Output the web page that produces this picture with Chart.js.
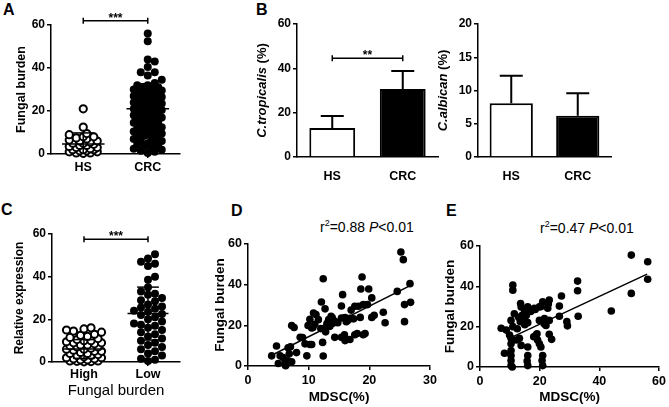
<!DOCTYPE html>
<html>
<head>
<meta charset="utf-8">
<script src="https://cdn.jsdelivr.net/npm/chart.js@4.4.1/dist/chart.umd.min.js"></script>
<style>
  body { margin: 0; background: #fff; width: 669px; height: 407px; position: relative; overflow: hidden;
         font-family: "Liberation Sans", Arial, sans-serif; color: #000; }
  canvas { position: absolute; }
  .letter { position: absolute; font-weight: bold; font-size: 16px; line-height: 16px; }
  .stat { position: absolute; font-size: 14px; line-height: 14px; white-space: nowrap; }
  .stat sup { font-size: 9px; line-height: 0; vertical-align: 6px; }
</style>
</head>
<body>
<div class="letter" style="left:3px;top:1.5px">A</div>
<div class="letter" style="left:256px;top:1.5px">B</div>
<div class="letter" style="left:1px;top:201.5px">C</div>
<div class="letter" style="left:231px;top:202.5px">D</div>
<div class="letter" style="left:446px;top:202.5px">E</div>
<div class="stat" style="left:320px;top:219.5px">r<sup>2</sup>=0.88 <i>P</i>&lt;0.01</div>
<div class="stat" style="left:540px;top:220.5px">r<sup>2</sup>=0.47 <i>P</i>&lt;0.01</div>

<canvas id="chartA"></canvas>
<canvas id="chartB1"></canvas>
<canvas id="chartB2"></canvas>
<canvas id="chartC"></canvas>
<canvas id="chartD"></canvas>
<canvas id="chartE"></canvas>

<script>
// ---- data ----
// A: fungal burden, healthy subjects vs CRC
const groupsA = ['HS', 'CRC'];
const burdenHS = [21, 12.5, 9.5, 9, 8, 8, 7.5, 7, 6.5, 6, 6, 5.5, 5, 5, 4.5, 4, 4, 3.5, 3, 3, 2.5, 2, 2, 2, 1.5, 1.5, 1, 1, 0.5, 0.5, 0.3];
const burdenCRC = [56, 52.5, 44, 43, 40.5, 38, 38, 36.5, 34.5, 33, 32, 32, 31, 31, 30.5, 30, 30, 29.5, 29, 29,
  28.5, 28, 28, 27.5, 27, 27, 26.5, 26, 26, 25.5, 25, 25, 24.5, 24, 24, 23.5, 23, 23, 22.5, 22, 22, 21.5, 21, 21,
  20.5, 20, 20, 19.5, 19, 19, 18.5, 18, 17.5, 17, 17, 16.5, 16, 15.5, 15, 15, 14.5, 14, 13.5, 13, 12.5, 12, 12,
  11.5, 11, 10.5, 10, 10, 9.5, 9, 9, 8.5, 8, 7.5, 7, 6.5, 6, 5.5, 5, 4.5, 4, 3.5, 3, 2.5, 2, 1.5, 1, 0.5];
const meanA = [4.7, 21];
const sdA = [5.1, 11.7];

// B: species share (%), mean + SD
const groupsB = ['HS', 'CRC'];
const tropicalis = [13.1, 30.7];
const tropicalisSD = [5.4, 8.1];
const albican = [8.1, 6.2];
const albicanSD = [4.1, 3.4];

// C: relative expression by fungal burden
const groupsC = ['High', 'Low'];
const exprHigh = [16, 15.5, 15, 14.5, 14, 13, 12.5, 12, 11.5, 11, 10.5, 10, 10, 9.5, 9, 9, 8.5, 8, 8, 7.5, 7, 7,
  6.5, 6, 6, 5.5, 5, 5, 4.5, 4, 4, 3.5, 3, 3, 2.5, 2, 2, 1.5, 1.5, 1, 1, 0.5, 0.5, 0.3, 0.2, 0.1];
const exprLow = [50.5, 48.5, 47, 46, 45, 40, 38.5, 35, 33, 32, 31.5, 30, 29, 28.5, 27, 26, 25.5, 25, 24, 23.5,
  22.5, 22, 21, 20, 19, 18, 17.5, 17, 16, 15, 14, 13, 12, 11, 10, 9, 8, 7, 6, 5, 4, 3, 1.5, 1, 0.5];
const meanC = [6.1, 22.7];
const sdC = [4.4, 12.4];

// D: fungal burden vs MDSC(%)
const mdscD = [25.2, 25.6, 18.8, 12.4, 26.7, 18.6, 19.9, 24.6, 15.6, 20.4, 12.1, 19.0, 19.7, 15.4, 17.6, 18.2,
  10.8, 11.2, 22.3, 25.8, 26.8, 12.7, 13.7, 13.9, 13.2, 14.3, 15.4, 16.0, 16.8, 17.4, 18.5, 20.4, 20.8, 11.6,
  10.2, 9.9, 10.7, 7.2, 7.6, 12.0, 12.7, 13.5, 10.5, 8.6, 14.3, 15.4, 15.9, 16.0, 16.8, 17.6, 19.0, 22.6, 25.8,
  9.4, 10.2, 10.5, 9.7, 12.3, 12.4, 6.6, 8.0, 4.7, 3.9, 5.3, 5.8, 6.6, 5.0, 6.1, 7.2, 6.2, 11.0, 13.0, 14.0,
  16.5, 17.0, 18.0, 19.3, 12.8, 14.8, 16.2, 13.3, 9.0, 6.8, 7.0];
const burdenD = [56.1, 52.3, 43.8, 42.9, 40.5, 37.9, 37.9, 36.7, 35.1, 33.5, 31.5, 30.2, 30.2, 29.5, 29.4, 29.4,
  26.1, 25.3, 26.4, 30.2, 31.3, 28.1, 24.5, 23.7, 21.6, 22.0, 23.6, 23.8, 23.5, 23.2, 23.9, 23.9, 24.9, 22.8,
  23.0, 19.9, 18.9, 19.9, 18.9, 18.4, 18.7, 19.5, 18.7, 14.1, 14.1, 14.1, 15.4, 12.5, 13.0, 15.4, 15.4, 21.3, 21.8,
  10.9, 10.6, 10.6, 5.0, 11.6, 4.9, 9.0, 6.6, 9.8, 5.0, 5.0, 4.2, 2.6, 1.2, 1.2, 2.1, 0.1, 20.5, 20.8, 21.0,
  22.5, 27.5, 16.0, 16.0, 16.8, 21.3, 21.8, 22.8, 14.0, 6.0, 9.5];
const fitD = [1.5, -0.6];        // slope, intercept
const fitRangeD = [4, 26.4];

// E: fungal burden vs MDSC(%)
const mdscE = [50.7, 56.2, 56.2, 50.7, 44.0, 32.7, 32.7, 32.9, 27.3, 26.6, 26.6, 29.1, 29.3, 23.2, 22.9, 22.7,
  21.0, 19.9, 18.2, 16.0, 14.9, 13.6, 13.8, 11.0, 11.0, 11.5, 10.4, 13.5, 14.5, 15.0, 14.0, 15.5, 16.0, 13.0,
  15.0, 19.9, 21.6, 23.2, 22.1, 23.2, 24.0, 7.1, 8.8, 9.9, 10.4, 8.2, 10.4, 10.4, 10.4, 10.4, 10.4, 10.8, 13.8,
  16.0, 16.0, 16.0, 18.8, 19.3, 19.9, 20.4, 21.0, 21.0, 18.0, 19.1, 12.1, 13.2, 17.0, 18.5, 20.5, 21.5, 12.5,
  11.0, 20.8, 15.8];
const burdenE = [55.5, 52.2, 43.5, 36.5, 27.8, 42.6, 37.8, 25.2, 35.2, 30.2, 25.2, 22.5, 20.4, 33.2, 31.2, 29.1,
  32.3, 29.8, 29.1, 29.8, 28.2, 31.5, 29.8, 40.6, 38.1, 26.4, 23.1, 22.5, 24.0, 23.0, 25.5, 25.5, 22.0, 24.5,
  21.0, 23.1, 24.0, 23.1, 20.6, 16.2, 13.7, 19.2, 18.3, 15.9, 14.2, 6.8, 11.5, 8.2, 5.7, 3.2, 0.7, 0, 10.7,
  9.9, 5.7, 0.7, 15.9, 13.4, 11.5, 9.9, 5.7, 0.7, 15.0, 16.5, 13.4, 14.2, 27.5, 28.5, 30.0, 21.5, 19.0,
  20.0, 3.2, 3.0];
const fitE = [0.69, 7.4];
const fitRangeE = [10, 56];

// ---- helpers ----
const FONT = '"Liberation Sans", Arial, sans-serif';
Chart.defaults.font.family = FONT;
Chart.defaults.color = '#000';
Chart.defaults.animation = false;
Chart.defaults.plugins.legend.display = false;
Chart.defaults.plugins.tooltip.enabled = false;

function place(id, r) {
  const cv = document.getElementById(id);
  cv.width = r.w; cv.height = r.h;
  cv.style.left = r.left + 'px';
  cv.style.top = r.top + 'px';
  return cv;
}

// padding so the plot area lands where it is in the figure
function padFor(r, p) {
  return { left: 0, top: p.top - r.top, right: r.left + r.w - p.right, bottom: 0 };
}

function yScale(o) {
  return {
    min: o.min, max: o.max,
    ticks: { stepSize: o.step, color: '#000', padding: 2, font: { weight: 'bold', size: o.tickSize || 12 } },
    grid: { drawOnChartArea: false, color: '#000', lineWidth: 1.5, tickLength: 4 },
    border: { color: '#000', width: 1.5 },
    title: o.title ? {
      display: true, text: o.title, color: '#000',
      font: { weight: 'bold', size: o.titleSize },
      padding: { top: o.titleX - o.titleSize * 0.6, bottom: 0 }
    } : { display: false },
    afterFit: s => { s.width = o.width; }
  };
}

function xTitle(o) {
  if (!o.title) return { display: false };
  return {
    display: true, text: o.title, color: '#000',
    font: { weight: o.titleWeight || 'bold', size: o.titleSize },
    padding: { top: 0, bottom: o.titlePad }
  };
}

// category-like linear axis for dot plots
function groupScale(groups, o) {
  return {
    type: 'linear', min: -0.5, max: groups.length - 0.5, bounds: 'data',
    afterBuildTicks: s => { s.ticks = groups.map((g, i) => ({ value: i })); },
    ticks: { callback: v => groups[v], color: '#000', padding: o.pad, autoSkip: false, maxRotation: 0,
             font: { weight: 'bold', size: 12.5 } },
    grid: { drawOnChartArea: false, color: '#000', lineWidth: 1.5, tickLength: 4 },
    border: { color: '#000', width: 1.5 },
    title: xTitle(o),
    afterFit: s => { s.height = o.height; }
  };
}

// bounded beeswarm: spread dots sideways, overlap them once the band is full
function swarm(vals, g, pxX, pxY, gap, maxHalf) {
  const idx = vals.map((v, i) => i).sort((a, b) => vals[a] - vals[b]);
  const placed = [], pts = [];
  const step = gap / 2;
  const cands = [0];
  for (let k = 1; k * step <= maxHalf; k++) cands.push(k * step, -k * step);
  idx.forEach(i => {
    const py = vals[i] * pxY;
    let best = 0, bestD = -1;
    for (const off of cands) {
      const d = placed.reduce((m, p) => Math.min(m, Math.hypot(p.x - off, p.y - py)), Infinity);
      if (d >= gap) { best = off; break; }
      if (d > bestD) { bestD = d; best = off; }
    }
    placed.push({ x: best, y: py });
    pts.push({ x: g + best / pxX, y: vals[i] });
  });
  return pts;
}

function lineSet(pts, w) {
  return { data: pts, showLine: true, pointRadius: 0, borderColor: '#000', borderWidth: w || 1.5, clip: false };
}

// mean line + SD whiskers for each group
function meanSdSets(means, sds, hw, cw) {
  const sets = [];
  means.forEach((m, g) => {
    const hi = m + sds[g], lo = Math.max(0, m - sds[g]);
    sets.push(lineSet([{ x: g - hw, y: m }, { x: g + hw, y: m }]));
    sets.push(lineSet([{ x: g, y: lo }, { x: g, y: hi }]));
    sets.push(lineSet([{ x: g - cw, y: hi }, { x: g + cw, y: hi }]));
    if (lo > 0) sets.push(lineSet([{ x: g - cw, y: lo }, { x: g + cw, y: lo }]));
  });
  return sets;
}

function dots(pts, open, r) {
  return {
    data: pts, clip: false,
    pointRadius: r, pointHoverRadius: r,
    pointBackgroundColor: open ? '#fff' : '#000',
    pointBorderColor: '#000', pointBorderWidth: open ? 2 : 0
  };
}

// significance bracket with stars
const bracketPlugin = {
  id: 'bracket',
  afterDraw(chart, args, opts) {
    if (!opts.text) return;
    const ctx = chart.ctx;
    const x1 = chart.scales.x.getPixelForValue(0);
    const x2 = chart.scales.x.getPixelForValue(1);
    const y = chart.scales.y.getPixelForValue(opts.at);
    ctx.save();
    ctx.strokeStyle = '#000';
    ctx.lineWidth = 1.5;
    ctx.beginPath();
    ctx.moveTo(x1, y - 3); ctx.lineTo(x1, y + 3);
    ctx.moveTo(x1, y); ctx.lineTo(x2, y);
    ctx.moveTo(x2, y - 3); ctx.lineTo(x2, y + 3);
    ctx.stroke();
    ctx.fillStyle = '#000';
    ctx.font = 'bold 12px ' + FONT;
    ctx.textAlign = 'center';
    ctx.textBaseline = 'alphabetic';
    ctx.fillText(opts.text, (x1 + x2) / 2, y + 1);
    ctx.restore();
  }
};

// SD whisker on top of each bar
const errPlugin = {
  id: 'errbars',
  afterDatasetsDraw(chart, args, opts) {
    if (!opts.sd) return;
    const ctx = chart.ctx, ys = chart.scales.y;
    const vals = chart.data.datasets[0].data;
    ctx.save();
    ctx.strokeStyle = '#000';
    ctx.lineWidth = 2;
    ctx.beginPath();
    chart.getDatasetMeta(0).data.forEach((bar, i) => {
      const top = ys.getPixelForValue(vals[i] + opts.sd[i]);
      ctx.moveTo(bar.x, bar.y); ctx.lineTo(bar.x, top);
      ctx.moveTo(bar.x - opts.cap, top); ctx.lineTo(bar.x + opts.cap, top);
    });
    ctx.stroke();
    ctx.restore();
  }
};

// y title with an italic species name
const richTitle = {
  id: 'richTitle',
  afterDraw(chart, args, opts) {
    if (!opts.parts) return;
    const ctx = chart.ctx, a = chart.chartArea;
    const fonts = opts.parts.map(p => (p.italic ? 'italic ' : '') + 'bold ' + opts.size + 'px ' + FONT);
    let total = 0;
    const widths = opts.parts.map((p, i) => { ctx.font = fonts[i]; const w = ctx.measureText(p.t).width; total += w; return w; });
    ctx.save();
    ctx.translate(opts.x, (a.top + a.bottom) / 2);
    ctx.rotate(-Math.PI / 2);
    ctx.fillStyle = '#000';
    ctx.textBaseline = 'middle';
    ctx.textAlign = 'left';
    let x = -total / 2;
    opts.parts.forEach((p, i) => { ctx.font = fonts[i]; ctx.fillText(p.t, x, 0); x += widths[i]; });
    ctx.restore();
  }
};
Chart.register(bracketPlugin, errPlugin, richTitle);

// ---- A ----
(function () {
  const r = { left: 0, top: 0, w: 190, h: 190 };
  const p = { left: 51, top: 25, right: 180, bottom: 154 };
  const pxX = (p.right - p.left) / 2, pxY = (p.bottom - p.top) / 60;
  new Chart(place('chartA', r), {
    type: 'scatter',
    data: {
      datasets: meanSdSets(meanA, sdA, 0.33, 0.17).concat([
        dots(swarm(burdenHS, 0, pxX, pxY, 7, 17), true, 3.6),
        dots(swarm(burdenCRC, 1, pxX, pxY, 7, 17), false, 4)
      ])
    },
    options: {
      responsive: false,
      layout: { padding: padFor(r, p) },
      scales: {
        x: groupScale(groupsA, { pad: 2, height: r.top + r.h - p.bottom }),
        y: yScale({ min: 0, max: 60, step: 20, width: p.left - r.left, title: 'Fungal burden', titleSize: 12.5, titleX: 22 })
      },
      plugins: { bracket: { text: '***', at: 62 } }
    }
  });
})();

// ---- B (two bar panels) ----
function barPanel(id, r, p, vals, sds, max, step, titleParts, titleX, sig) {
  new Chart(place(id, r), {
    type: 'bar',
    data: {
      labels: groupsB,
      datasets: [{
        data: vals,
        backgroundColor: ['#fff', '#000'], borderColor: '#000', borderWidth: 2,
        categoryPercentage: 1, barPercentage: 0.65
      }]
    },
    options: {
      responsive: false,
      layout: { padding: padFor(r, p) },
      scales: {
        x: {
          ticks: { color: '#000', padding: 4, font: { weight: 'bold', size: 12.5 } },
          grid: { display: false },
          border: { color: '#000', width: 1.5 },
          afterFit: s => { s.height = r.top + r.h - p.bottom; }
        },
        y: yScale({ min: 0, max: max, step: step, width: p.left - r.left })
      },
      plugins: {
        errbars: { sd: sds, cap: 11.5 },
        richTitle: { parts: titleParts, size: 13, x: titleX - r.left },
        bracket: sig || {}
      }
    }
  });
}
barPanel('chartB1', { left: 190, top: 0, w: 255, h: 190 }, { left: 297, top: 24, right: 438, bottom: 157 },
  tropicalis, tropicalisSD, 60, 20, [{ t: 'C.tropicalis', italic: true }, { t: ' (%)' }], 262, { text: '**', at: 44.6 });
barPanel('chartB2', { left: 425, top: 0, w: 244, h: 190 }, { left: 478, top: 24, right: 611, bottom: 157 },
  albican, albicanSD, 20, 5, [{ t: 'C.albican', italic: true }, { t: ' (%)' }], 443, null);

// ---- C ----
(function () {
  const r = { left: 0, top: 195, w: 200, h: 212 };
  const p = { left: 52, top: 234, right: 180, bottom: 362 };
  const pxX = (p.right - p.left) / 2, pxY = (p.bottom - p.top) / 60;
  new Chart(place('chartC', r), {
    type: 'scatter',
    data: {
      datasets: meanSdSets(meanC, sdC, 0.32, 0.17).concat([
        dots(swarm(exprHigh, 0, pxX, pxY, 7, 18), true, 3.6),
        dots(swarm(exprLow, 1, pxX, pxY, 7, 17), false, 4)
      ])
    },
    options: {
      responsive: false,
      layout: { padding: padFor(r, p) },
      scales: {
        x: groupScale(groupsC, { pad: 1, height: r.top + r.h - p.bottom, title: 'Fungal burden',
                                 titleSize: 15, titleWeight: 'normal', titlePad: 7 }),
        y: yScale({ min: 0, max: 60, step: 20, width: p.left - r.left, title: 'Relative expression', titleSize: 12, titleX: 20 })
      },
      plugins: { bracket: { text: '***', at: 57.5 } }
    }
  });
})();

// ---- D and E ----
function corrPanel(id, r, p, xs, ys, xmax, xstep, fit, range, titleX) {
  const pts = xs.map((x, i) => ({ x: x, y: ys[i] }));
  const line = range.map(x => ({ x: x, y: fit[0] * x + fit[1] }));
  new Chart(place(id, r), {
    type: 'scatter',
    data: { datasets: [lineSet(line, 1.5), dots(pts, false, 3.8)] },
    options: {
      responsive: false,
      layout: { padding: padFor(r, p) },
      scales: {
        x: {
          type: 'linear', min: 0, max: xmax,
          ticks: { stepSize: xstep, color: '#000', padding: 3, font: { weight: 'bold', size: 12.5 } },
          grid: { drawOnChartArea: false, color: '#000', lineWidth: 1.5, tickLength: 4 },
          border: { color: '#000', width: 1.5 },
          title: xTitle({ title: 'MDSC(%)', titleSize: 13.5, titlePad: 1.2 }),
          afterFit: s => { s.height = r.top + r.h - p.bottom; }
        },
        y: yScale({ min: 0, max: 60, step: 20, width: p.left - r.left, title: 'Fungal burden',
                    titleSize: 13.5, titleX: titleX - r.left, tickSize: 12.5 })
      }
    }
  });
}
corrPanel('chartD', { left: 200, top: 195, w: 240, h: 212 }, { left: 248, top: 244, right: 430, bottom: 366 },
  mdscD, burdenD, 30, 10, fitD, fitRangeD, 220);
corrPanel('chartE', { left: 435, top: 195, w: 234, h: 212 }, { left: 480, top: 246, right: 660, bottom: 367 },
  mdscE, burdenE, 60, 20, fitE, fitRangeE, 450);
</script>
</body>
</html>
